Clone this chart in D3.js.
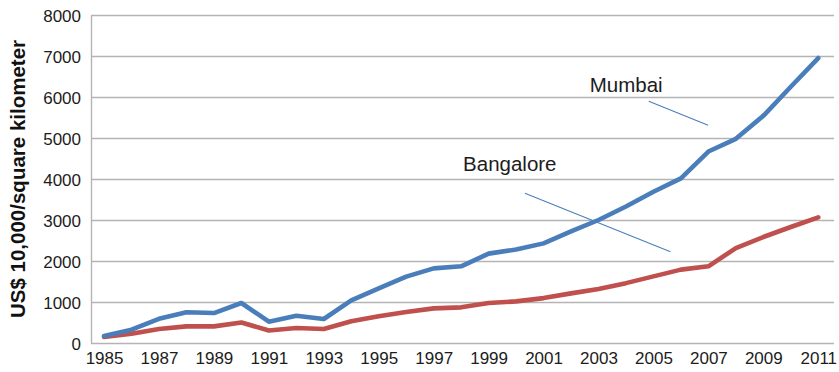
<!DOCTYPE html>
<html>
<head>
<meta charset="utf-8">
<script src="https://cdn.jsdelivr.net/npm/d3@7/dist/d3.min.js"></script>
<style>
  html, body { margin: 0; padding: 0; background: #fff; }
  svg { display: block; font-family: "Liberation Sans", Arial, Helvetica, sans-serif; }
</style>
</head>
<body>
<svg id="chart" width="839" height="372"></svg>
<script>
// Land price per square kilometre, 1985-2011 (US$ 10,000)
const years = d3.range(1985, 2012);
const mumbai = [170, 325, 590, 750, 730, 975, 520, 665, 585, 1040, 1330, 1620, 1820, 1870,
                2180, 2280, 2430, 2720, 3000, 3330, 3690, 4015, 4670, 4980, 5540, 6250, 6950];
const bangalore = [145, 225, 340, 405, 405, 500, 305, 365, 340, 530, 650, 755, 845, 870,
                   975, 1015, 1095, 1210, 1315, 1460, 1625, 1790, 1870, 2315, 2585, 2830, 3065];
const yTicks = [0, 1000, 2000, 3000, 4000, 5000, 6000, 7000, 8000];
const xTickYears = years.filter(y => (y - 1985) % 2 === 0);
const yTitle = "US$ 10,000/square kilometer";

// Labels with pointer lines: text anchor point and line ends given in data space
const callouts = [
  { name: "Mumbai",    at: [2002.68, 6115], from: [2004.83, 5895], to: [2006.99, 5310] },
  { name: "Bangalore", at: [1998.07, 4202], from: [2000.32, 3651], to: [2005.62, 2227] }
];

const svg = d3.select("#chart");
const plot = { left: 91, right: 834, top: 15, bottom: 343 };

const x = d3.scalePoint().domain(years).range([90.3, 832]).padding(0.5);
const y = d3.scaleLinear().domain([0, 8000]).range([plot.bottom, plot.top]);
// continuous year scale for placing callouts between categories
const xc = d3.scaleLinear().domain([1985, 2011]).range([x(1985), x(2011)]);

// y axis with gridlines
const yAxis = svg.append("g")
  .attr("transform", `translate(${plot.left},0)`)
  .call(d3.axisLeft(y).tickValues(yTicks).tickFormat(d3.format("d"))
    .tickSize(-(plot.right - plot.left)).tickSizeOuter(0).tickPadding(10));
yAxis.select(".domain").attr("stroke", "#b4b4b4").attr("stroke-width", 1.4);
yAxis.selectAll(".tick line").attr("stroke", "#b4b4b4").attr("stroke-width", 1.4);
yAxis.selectAll(".tick text")
  .attr("dy", "0.4em")
  .attr("fill", "#1c1c1c")
  .style("font-size", "17px");

// x axis labels (every other year)
const xAxis = svg.append("g")
  .attr("transform", `translate(0,${plot.bottom})`)
  .call(d3.axisBottom(x).tickValues(xTickYears).tickSize(0).tickPadding(9));
xAxis.select(".domain").remove();
xAxis.selectAll(".tick text")
  .attr("dy", "0.71em")
  .attr("fill", "#1c1c1c")
  .style("font-size", "17px");

// y axis title
svg.append("text")
  .attr("transform", `translate(25,${(plot.top + plot.bottom) / 2}) rotate(-90)`)
  .attr("text-anchor", "middle")
  .attr("font-weight", "bold")
  .attr("fill", "#111")
  .style("font-size", "20.5px")
  .text(yTitle);

// series lines
const line = d3.line().x((d, i) => x(years[i])).y(d => y(d));
const series = [
  { values: bangalore, color: "#c0504d" },
  { values: mumbai, color: "#4a7ebb" }
];
svg.selectAll("path.series")
  .data(series)
  .join("path")
  .attr("class", "series")
  .attr("d", d => line(d.values))
  .attr("fill", "none")
  .attr("stroke", d => d.color)
  .attr("stroke-width", 4.6)
  .attr("stroke-linejoin", "round")
  .attr("stroke-linecap", "round");

// callout labels and pointer lines
const cg = svg.selectAll("g.callout").data(callouts).join("g").attr("class", "callout");
cg.append("line")
  .attr("x1", d => xc(d.from[0])).attr("y1", d => y(d.from[1]))
  .attr("x2", d => xc(d.to[0])).attr("y2", d => y(d.to[1]))
  .attr("stroke", "#4a7ebb")
  .attr("stroke-width", 1.1);
cg.append("text")
  .attr("x", d => xc(d.at[0])).attr("y", d => y(d.at[1]))
  .attr("fill", "#1c1c1c")
  .style("font-size", "20.5px")
  .text(d => d.name);
</script>
</body>
</html>
